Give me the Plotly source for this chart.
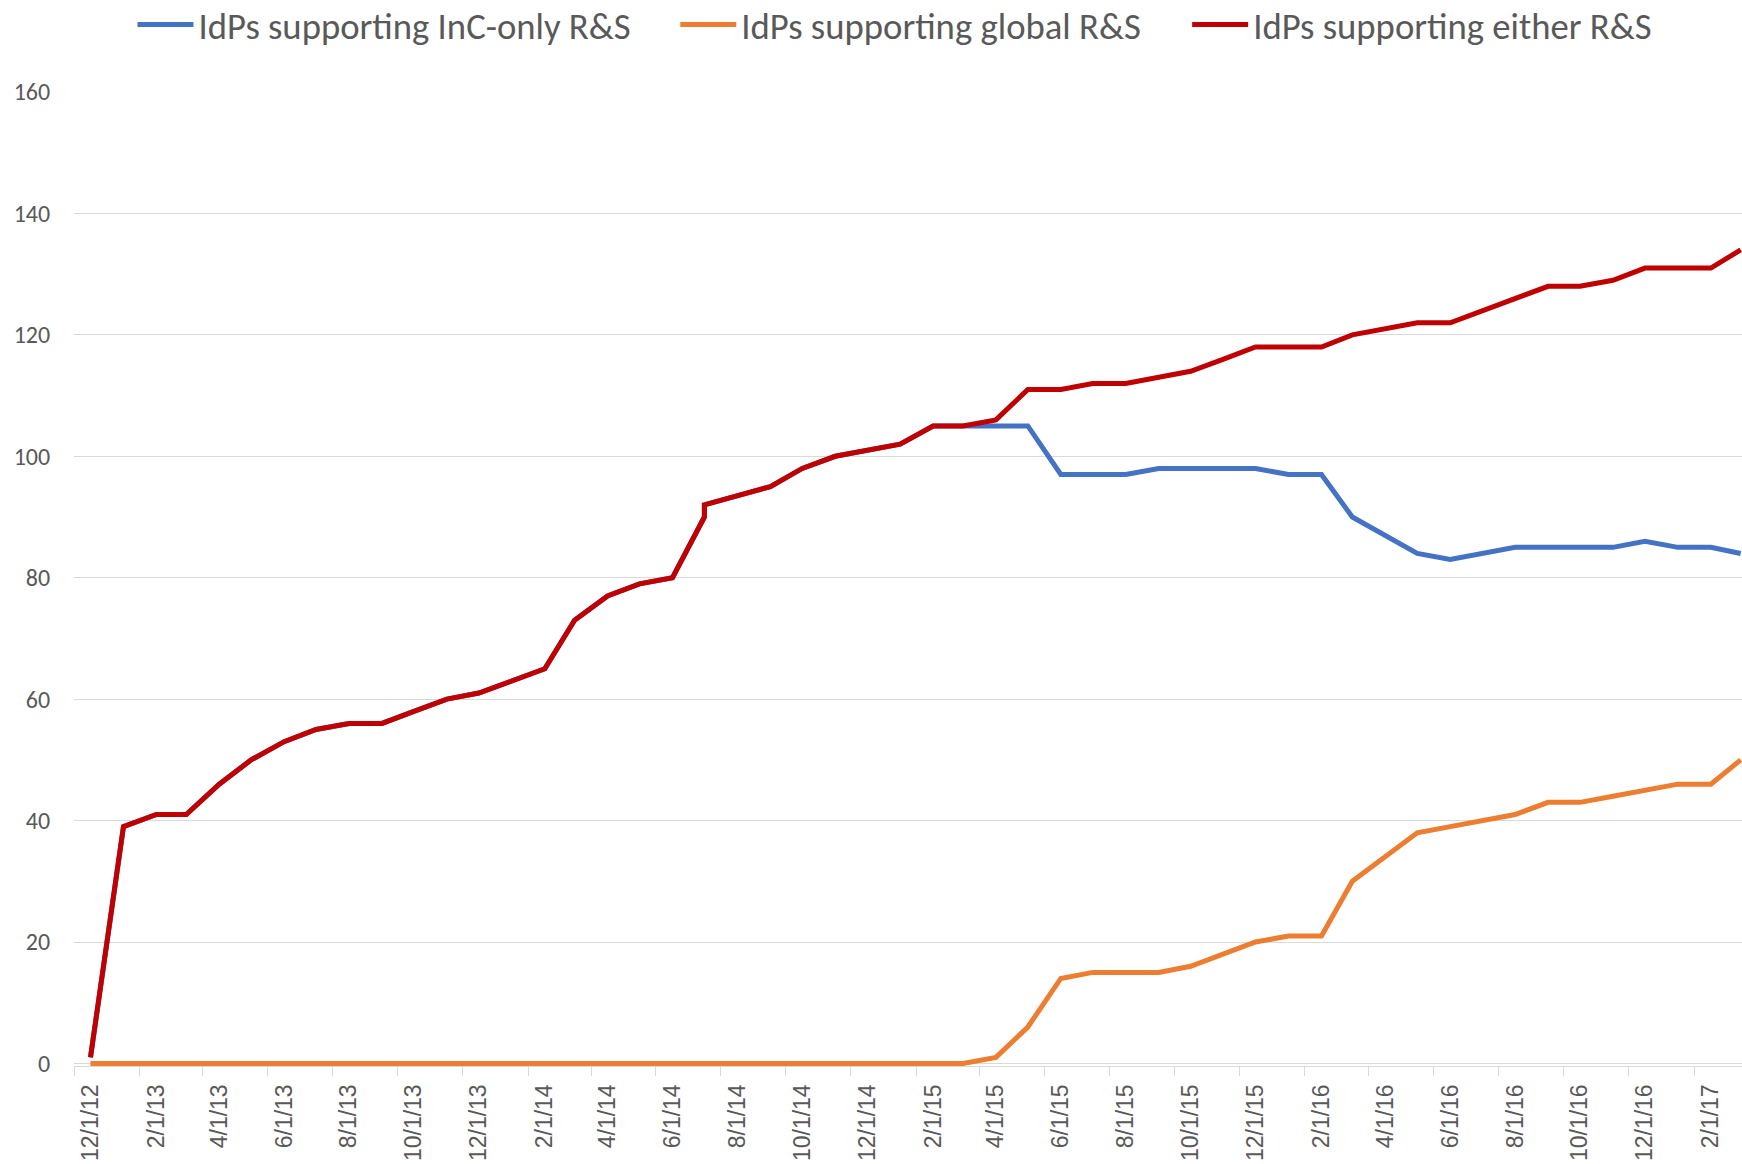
import pandas as pd
import plotly.graph_objects as go

# ---- data ----
dates = [
    "2012-12-01", "2013-01-01", "2013-02-01", "2013-03-01", "2013-04-01", "2013-05-01",
    "2013-06-01", "2013-07-01", "2013-08-01", "2013-09-01", "2013-10-01", "2013-11-01",
    "2013-12-01", "2014-01-01", "2014-02-01", "2014-03-01", "2014-04-01", "2014-05-01",
    "2014-06-01", "2014-07-01", "2014-07-01", "2014-09-01", "2014-10-01", "2014-11-01",
    "2014-12-01", "2015-01-01", "2015-02-01", "2015-03-01", "2015-04-01", "2015-05-01",
    "2015-06-01", "2015-07-01", "2015-08-01", "2015-09-01", "2015-10-01", "2015-11-01",
    "2015-12-01", "2016-01-01", "2016-02-01", "2016-03-01", "2016-04-01", "2016-05-01",
    "2016-06-01", "2016-07-01", "2016-08-01", "2016-09-01", "2016-10-01", "2016-11-01",
    "2016-12-01", "2017-01-01", "2017-02-01", "2017-03-01",
]

either_rs = [
    1, 39, 41, 41, 46, 50, 53, 55, 56, 56, 58, 60,
    61, 63, 65, 73, 77, 79, 80, 90, 92, 95, 98, 100,
    101, 102, 105, 105, 106, 111, 111, 112, 112, 113, 114, 116,
    118, 118, 118, 120, 121, 122, 122, 124, 126, 128, 128, 129,
    131, 131, 131, 134,
]

inc_only_rs = [
    1, 39, 41, 41, 46, 50, 53, 55, 56, 56, 58, 60,
    61, 63, 65, 73, 77, 79, 80, 90, 92, 95, 98, 100,
    101, 102, 105, 105, 105, 105, 97, 97, 97, 98, 98, 98,
    98, 97, 97, 90, 87, 84, 83, 84, 85, 85, 85, 85,
    86, 85, 85, 84,
]

global_rs = [
    0, 0, 0, 0, 0, 0, 0, 0, 0, 0, 0, 0,
    0, 0, 0, 0, 0, 0, 0, 0, 0, 0, 0, 0,
    0, 0, 0, 0, 1, 6, 14, 15, 15, 15, 16, 18,
    20, 21, 21, 30, 34, 38, 39, 40, 41, 43, 43, 44,
    45, 46, 46, 50,
]

tick_dates = [
    "2012-12-01", "2013-02-01", "2013-04-01", "2013-06-01", "2013-08-01", "2013-10-01",
    "2013-12-01", "2014-02-01", "2014-04-01", "2014-06-01", "2014-08-01", "2014-10-01",
    "2014-12-01", "2015-02-01", "2015-04-01", "2015-06-01", "2015-08-01", "2015-10-01",
    "2015-12-01", "2016-02-01", "2016-04-01", "2016-06-01", "2016-08-01", "2016-10-01",
    "2016-12-01", "2017-02-01",
]
tick_labels = [
    "12/1/12", "2/1/13", "4/1/13", "6/1/13", "8/1/13", "10/1/13",
    "12/1/13", "2/1/14", "4/1/14", "6/1/14", "8/1/14", "10/1/14",
    "12/1/14", "2/1/15", "4/1/15", "6/1/15", "8/1/15", "10/1/15",
    "12/1/15", "2/1/16", "4/1/16", "6/1/16", "8/1/16", "10/1/16",
    "12/1/16", "2/1/17",
]

series_names = ["IdPs supporting InC-only R&S", "IdPs supporting global R&S", "IdPs supporting either R&S"]
series_colors = ["#4472C4", "#ED7D31", "#C00000"]

# ---- figure ----
CAL = "Calibri, Carlito, Lato, sans-serif"
ARI = "Arial, 'Liberation Sans', sans-serif"
GRID = "#D9D9D9"
TXT = "#595959"

W, H = 1742, 1164
ML, MR, MT, MB = 73.5, 0, 92, 97.5
plot_w = W - ML - MR

legend_ids = ["legend", "legend2", "legend3"]
legend_x_px = [132, 675, 1187]   # left edge of each legend entry, px

fig = go.Figure()
for name, vals, col, lid in zip(series_names, [inc_only_rs, global_rs, either_rs], series_colors, legend_ids):
    fig.add_trace(go.Scatter(
        x=dates, y=vals, mode="lines", name=name,
        line=dict(color=col, width=5),
        legend=lid,
    ))

half_month = pd.Timedelta(hours=372)
tick_ts = pd.to_datetime(tick_dates)
boundary_ticks = [(t - half_month).strftime("%Y-%m-%d %H:%M") for t in tick_ts]
x_start = (pd.Timestamp(dates[0]) - half_month).strftime("%Y-%m-%d %H:%M")
x_end = (pd.Timestamp(dates[-1]) + pd.Timedelta(hours=30)).strftime("%Y-%m-%d %H:%M")

legend_y = 1 + (MT - 24.5) / (H - MT - MB)
legends = {}
for lid, xp in zip(legend_ids, legend_x_px):
    legends[lid] = dict(
        orientation="h", x=(xp - ML) / plot_w, xanchor="left",
        y=legend_y, yanchor="middle",
        font=dict(family=CAL, size=36.7, color=TXT),
        itemwidth=56, bgcolor="rgba(0,0,0,0)", borderwidth=0,
    )

fig.update_layout(
    width=W, height=H,
    paper_bgcolor="white", plot_bgcolor="white",
    margin=dict(l=ML, r=MR, t=MT, b=MB, pad=0, autoexpand=False),
    showlegend=True,
    xaxis=dict(
        type="date", range=[x_start, x_end],
        tickmode="array", tickvals=tick_dates, ticktext=tick_labels,
        tickangle=-90, tickfont=dict(family=ARI, size=23, color=TXT),
        ticks="outside", ticklen=8, tickcolor="rgba(0,0,0,0)",
        showgrid=False, zeroline=False,
        showline=True, linecolor=GRID, linewidth=1.3,
        minor=dict(tickmode="array", tickvals=boundary_ticks, ticks="outside",
                   ticklen=9, tickwidth=1.3, tickcolor=GRID, showgrid=False),
        automargin=False,
    ),
    yaxis=dict(
        range=[-0.42, 160], tickmode="array", tickvals=[0, 20, 40, 60, 80, 100, 120, 140, 160],
        tickfont=dict(family=CAL, size=24, color=TXT),
        ticks="outside", ticklen=18, tickcolor="rgba(0,0,0,0)",
        showgrid=True, gridcolor=GRID, gridwidth=1.3,
        zeroline=False, showline=False, automargin=False,
    ),
    **legends,
)

page_css = ("document.body.style.margin='0';"
            "document.documentElement.style.overflow='hidden';"
            "document.body.style.overflow='hidden';")
fig.write_html("out.html", post_script=page_css, config={"displayModeBar": False})
